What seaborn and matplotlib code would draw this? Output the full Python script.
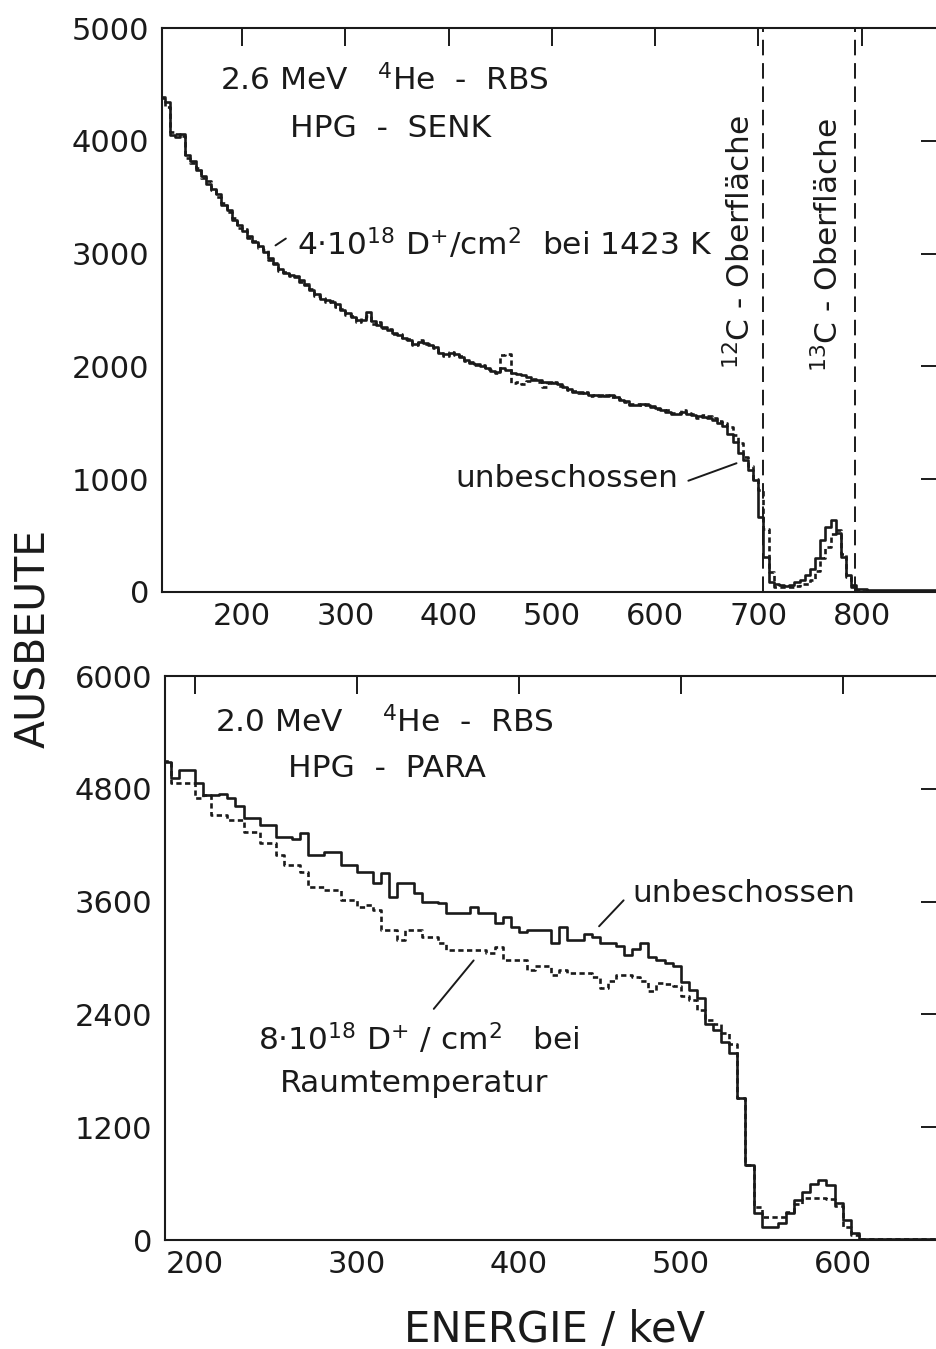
import numpy as np
import pandas as pd
import seaborn as sns
import matplotlib.pyplot as plt

# ---------------- data ----------------
# top panel: 2.6 MeV 4He-RBS, HPG-SENK, channels of 5 keV starting at 120 keV
top_start, top_width = 120, 5
top_unbeschossen = [
    4380, 4340, 4050, 4030, 4060, 3870, 3820, 3740, 3690, 3620,
    3570, 3530, 3430, 3390, 3300, 3250, 3200, 3160, 3100, 3070,
    3010, 2960, 2910, 2860, 2830, 2810, 2790, 2770, 2720, 2680,
    2640, 2600, 2590, 2570, 2550, 2500, 2470, 2440, 2410, 2410,
    2480, 2400, 2370, 2350, 2320, 2300, 2280, 2250, 2230, 2200,
    2220, 2210, 2190, 2170, 2120, 2110, 2120, 2110, 2080, 2060,
    2030, 2020, 2000, 1990, 1960, 1950, 1990, 1970, 1940, 1930,
    1920, 1910, 1880, 1880, 1860, 1860, 1850, 1840, 1820, 1800,
    1770, 1770, 1760, 1750, 1745, 1745, 1740, 1745, 1730, 1700,
    1690, 1660, 1660, 1670, 1660, 1640, 1630, 1610, 1600, 1580,
    1580, 1600, 1580, 1570, 1560, 1550, 1540, 1525, 1500, 1470,
    1400, 1330, 1230, 1170, 1080, 990, 665, 310, 90, 70,
    60, 55, 60, 90, 110, 150, 200, 300, 460, 580,
    640, 520, 310, 150, 60, 30, 25, 20, 20, 20,
    20, 20, 20, 20, 20, 20, 20, 20, 20, 20,
    20,
]
top_implantiert = [
    4390, 4300, 4080, 4060, 4040, 3850, 3800, 3760, 3670, 3640,
    3560, 3500, 3450, 3370, 3320, 3230, 3220, 3140, 3110, 3050,
    3030, 2940, 2920, 2850, 2840, 2800, 2800, 2750, 2730, 2690,
    2620, 2610, 2570, 2580, 2530, 2510, 2460, 2450, 2390, 2430,
    2450, 2380, 2390, 2340, 2330, 2290, 2290, 2240, 2240, 2190,
    2230, 2200, 2200, 2160, 2130, 2090, 2130, 2100, 2090, 2050,
    2040, 2010, 2010, 1980, 1970, 1940, 2100, 2110, 1850, 1860,
    1840, 1870, 1890, 1860, 1820, 1850, 1860, 1830, 1830, 1790,
    1780, 1760, 1770, 1740, 1750, 1740, 1750, 1730, 1740, 1710,
    1680, 1670, 1670, 1660, 1670, 1650, 1620, 1620, 1610, 1590,
    1590, 1610, 1590, 1580, 1540, 1570, 1560, 1540, 1520, 1500,
    1460, 1390, 1320, 1200, 1120, 1000, 900, 560, 180, 40,
    40, 40, 40, 50, 70, 70, 110, 190, 300, 400,
    510, 550, 340, 135, 40, 15, 10, 10, 10, 10,
    10, 10, 10, 10, 10, 10, 10, 10, 10, 10,
    10,
]

# bottom panel: 2.0 MeV 4He-RBS, HPG-PARA, channels of 5 keV starting at 180 keV
bot_start, bot_width = 180, 5
bot_unbeschossen = [
    5080, 4920, 5000, 5000, 4860, 4730, 4730, 4750, 4700, 4620,
    4490, 4490, 4410, 4410, 4290, 4290, 4270, 4330, 4100, 4100,
    4130, 4130, 3990, 3990, 3920, 3920, 3800, 3900, 3650, 3800,
    3800, 3690, 3600, 3600, 3580, 3480, 3480, 3480, 3540, 3480,
    3480, 3370, 3440, 3330, 3280, 3300, 3300, 3300, 3160, 3330,
    3190, 3190, 3260, 3220, 3160, 3160, 3130, 3030, 3100, 3160,
    3010, 2980, 2950, 2910, 2740, 2660, 2570, 2300, 2230, 2110,
    1990, 1510, 800, 285, 140, 140, 180, 285, 430, 515,
    600, 640, 590, 390, 210, 70, 15, 15, 15, 15,
    15, 15, 15, 15, 15, 15,
]
bot_implantiert = [
    5100, 4860, 4860, 4860, 4700, 4730, 4520, 4520, 4470, 4470,
    4340, 4340, 4220, 4220, 4100, 3990, 3990, 3920, 3760, 3760,
    3720, 3720, 3620, 3620, 3540, 3560, 3510, 3300, 3300, 3190,
    3300, 3300, 3220, 3220, 3160, 3090, 3090, 3090, 3080, 3080,
    3050, 3120, 2980, 2980, 2980, 2870, 2910, 2910, 2820, 2870,
    2840, 2840, 2840, 2800, 2680, 2760, 2820, 2820, 2800, 2760,
    2650, 2730, 2720, 2700, 2600, 2550, 2450, 2340, 2300, 2200,
    2090, 1510, 800, 350, 245, 245, 245, 300, 380, 445,
    445, 445, 440, 360, 140, 55, 10, 10, 10, 10,
    10, 10, 10, 10, 10, 10,
]

top_xticks = [200, 300, 400, 500, 600, 700, 800]
top_yticks = [0, 1000, 2000, 3000, 4000, 5000]
bot_xticks = [200, 300, 400, 500, 600]
bot_yticks = [0, 1200, 2400, 3600, 4800, 6000]
surface_energies = [705, 793.5]
surface_labels = ["$^{12}$C - Oberfläche", "$^{13}$C - Oberfläche"]

# ---------------- style ----------------
sns.set_theme(style="white")
plt.rcParams['font.family'] = ['DejaVu Sans']
plt.rcParams['mathtext.fontset'] = 'dejavusans'
plt.rcParams['axes.edgecolor'] = '#1a1a1a'
plt.rcParams['axes.linewidth'] = 1.5
INK = '#1a1a1a'
FS = 22.5
TFS = 22

fig = plt.figure(figsize=(9.37, 13.49), dpi=100)
ax1 = fig.add_axes([162/937, 1-592/1349, (939-162)/937, (592-28)/1349])
ax2 = fig.add_axes([165/937, 1-1240/1349, (939-165)/937, (1240-676)/1349])


def steps(start, width, vals, label):
    n = len(vals)
    x = start + width * np.arange(n + 1)
    y = list(vals) + [vals[-1]]
    return pd.DataFrame({"Energie": x, "Ausbeute": y, "Serie": label})


def draw(ax, start, width, solid, dashed):
    d1 = steps(start, width, solid, "unbeschossen")
    d2 = steps(start, width, dashed, "implantiert")
    sns.lineplot(data=d1, x="Energie", y="Ausbeute", ax=ax, color=INK, lw=1.9,
                 drawstyle="steps-post", estimator=None, sort=False)
    sns.lineplot(data=d2, x="Energie", y="Ausbeute", ax=ax, color=INK, lw=1.9,
                 drawstyle="steps-post", estimator=None, sort=False,
                 linestyle=(0, (2.0, 1.3)))


def style_axes(ax, xticks, yticks, xlim, ylim):
    ax.set_xlim(*xlim)
    ax.set_ylim(*ylim)
    ax.set_xticks(xticks)
    ax.set_yticks(yticks)
    ax.set_xlabel("")
    ax.set_ylabel("")
    ax.tick_params(direction='in', length=13, width=1.4, top=True, right=True,
                   labelsize=TFS, colors=INK, pad=9)
    ax.tick_params(axis='x', pad=7)
    for s in ax.spines.values():
        s.set_visible(True)
        s.set_color(INK)
        s.set_linewidth(1.5)


def note(ax, x, y, s, **kw):
    ax.text(x, y, s, fontsize=FS, color=INK, va='baseline', **kw)


# ---- top panel ----
draw(ax1, top_start, top_width, top_unbeschossen, top_implantiert)
style_axes(ax1, top_xticks, top_yticks, (122.4, 875), (0, 5000))
for e in surface_energies:
    ax1.axvline(e, color=INK, lw=1.4, linestyle=(0, (8, 4)))
ax1.text(682, 3100, surface_labels[0], rotation=90, ha='center', va='center',
         fontsize=FS, color=INK)
ax1.text(767.5, 3076, surface_labels[1], rotation=90, ha='center', va='center',
         fontsize=FS, color=INK)
note(ax1, 178.7, 4450, "2.6 MeV   $^{4}$He  -  RBS")
note(ax1, 246.6, 4034, "HPG  -  SENK")
note(ax1, 253.3, 2988, r"4$\cdot$10$^{18}$ D$^{+}$/cm$^{2}$  bei 1423 K")
ax1.annotate("", xy=(230.1, 3059), xytext=(244.6, 3147),
             arrowprops=dict(arrowstyle='-', color=INK, lw=1.4))
note(ax1, 406.6, 931, "unbeschossen")
ax1.annotate("", xy=(681.4, 1150), xytext=(629.7, 978),
             arrowprops=dict(arrowstyle='-', color=INK, lw=1.4))

# ---- bottom panel ----
draw(ax2, bot_start, bot_width, bot_unbeschossen, bot_implantiert)
style_axes(ax2, bot_xticks, bot_yticks, (181.5, 659.5), (0, 6000))
note(ax2, 212.4, 5404, "2.0 MeV    $^{4}$He  -  RBS")
note(ax2, 257.5, 4926, "HPG  -  PARA")
note(ax2, 470.3, 3596, "unbeschossen")
ax2.annotate("", xy=(448.4, 3316), xytext=(465.9, 3635),
             arrowprops=dict(arrowstyle='-', color=INK, lw=1.4))
note(ax2, 239, 2021, r"8$\cdot$10$^{18}$ D$^{+}$ / cm$^{2}$   bei")
note(ax2, 252.6, 1574, "Raumtemperatur")
ax2.annotate("", xy=(373.2, 2997), xytext=(346.4, 2436),
             arrowprops=dict(arrowstyle='-', color=INK, lw=1.4))

fig.text(0.037, 1 - 638/1349, "AUSBEUTE", rotation=90, ha='center', va='center',
         fontsize=29.5, color=INK)
fig.text(555/937, 1 - 1330/1349, "ENERGIE / keV", ha='center', va='center',
         fontsize=30, color=INK)

fig.savefig("out.png", dpi=100, facecolor='white')
